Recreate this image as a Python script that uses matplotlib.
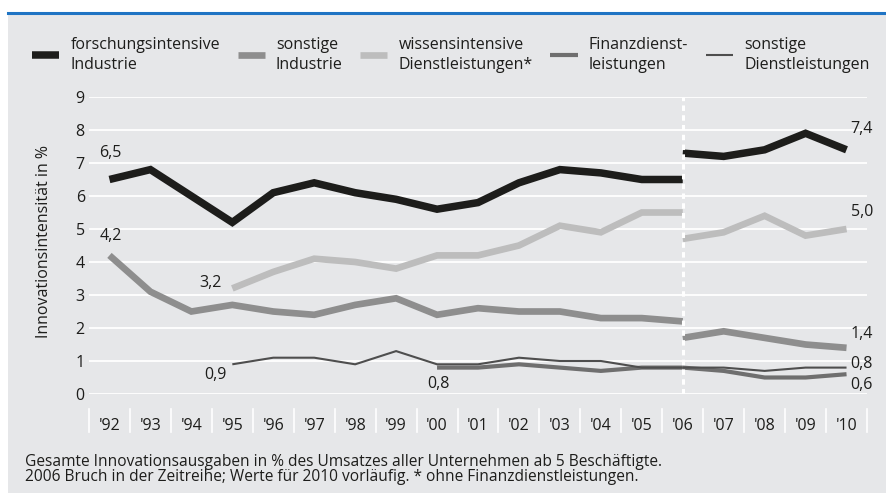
import matplotlib
matplotlib.use("Agg")
import matplotlib.pyplot as plt
import numpy as np

plt.rcParams['font.family'] = ['Open Sans', 'DejaVu Sans']

years = ["'92", "'93", "'94", "'95", "'96", "'97", "'98", "'99", "'00", "'01",
         "'02", "'03", "'04", "'05", "'06", "'07", "'08", "'09", "'10"]

# series: values 1992-2006 (old) and 2006-2010 (new), None = no data
forsch_old = [6.5, 6.8, 6.0, 5.2, 6.1, 6.4, 6.1, 5.9, 5.6, 5.8, 6.4, 6.8, 6.7, 6.5, 6.5]
forsch_new = [7.3, 7.2, 7.4, 7.9, 7.4]
sind_old = [4.2, 3.1, 2.5, 2.7, 2.5, 2.4, 2.7, 2.9, 2.4, 2.6, 2.5, 2.5, 2.3, 2.3, 2.2]
sind_new = [1.7, 1.9, 1.7, 1.5, 1.4]
wiss_old = [None, None, None, 3.2, 3.7, 4.1, 4.0, 3.8, 4.2, 4.2, 4.5, 5.1, 4.9, 5.5, 5.5]
wiss_new = [4.7, 4.9, 5.4, 4.8, 5.0]
fin_old = [None] * 8 + [0.8, 0.8, 0.9, 0.8, 0.7, 0.8, 0.8]
fin_new = [0.8, 0.7, 0.5, 0.5, 0.6]
sdl_old = [None, None, None, 0.9, 1.1, 1.1, 0.9, 1.3, 0.9, 0.9, 1.1, 1.0, 1.0, 0.8, 0.8]
sdl_new = [0.8, 0.8, 0.7, 0.8, 0.8]

labels = ["forschungsintensive\nIndustrie", "sonstige\nIndustrie",
          "wissensintensive\nDienstleistungen*", "Finanzdienst-\nleistungen",
          "sonstige\nDienstleistungen"]
colors = ["#1d1d1b", "#8e8e8e", "#bdbdbd", "#6f6f6f", "#4e4e4e"]
widths = [5.4, 4.8, 4.8, 3.0, 1.5]

FS = 11.5
TXT = "#1d1d1b"
BG = "#e6e7e9"
W, H = 886, 493
fig = plt.figure(figsize=(W / 100, H / 100), dpi=100)
fig.patch.set_facecolor("white")

# panel background and blue top rule
fig.add_artist(plt.Rectangle((8 / W, 0), 1, 1 - 13 / H, transform=fig.transFigure,
                             facecolor=BG, edgecolor="none", zorder=0))
fig.add_artist(plt.Line2D([8 / W, 1], [1 - 12.5 / H] * 2, transform=fig.transFigure,
                          color="#1f74c4", lw=2.2, zorder=1))

ax = fig.add_axes([89 / W, (H - 394) / H, (867 - 89) / W, (394 - 97) / H])
ax.set_facecolor("none")
for s in ax.spines.values():
    s.set_visible(False)

x_old = np.arange(15)
x_new = np.arange(14, 19)

def arr(v):
    return np.array([np.nan if a is None else a for a in v], dtype=float)

series = [(forsch_old, forsch_new), (sind_old, sind_new), (wiss_old, wiss_new),
          (fin_old, fin_new), (sdl_old, sdl_new)]
zorders = [5, 4.8, 4.6, 4.4, 4.5]
handles = []
for (o, n), c, w, lab, z in zip(series, colors, widths, labels, zorders):
    l, = ax.plot(x_old, arr(o), color=c, lw=w, solid_capstyle="butt",
                 solid_joinstyle="miter", zorder=z, label=lab)
    ax.plot(x_new, arr(n), color=c, lw=w, solid_capstyle="butt",
            solid_joinstyle="miter", zorder=z)
    handles.append(l)

# break line at 2006
ax.axvline(14, color="white", lw=2.2, ls=(0, (1.8, 1.4)), zorder=6)

ax.set_xlim(-0.5, 18.5)
ax.set_ylim(0, 9)
ax.set_yticks(range(0, 10))
ax.set_yticklabels([str(v) for v in range(0, 10)])
ax.grid(axis="y", color="white", lw=1.3, zorder=1)
ax.set_axisbelow(True)
ax.set_xticks(range(19))
ax.set_xticklabels(years)
ax.tick_params(axis="both", length=0, labelsize=FS, colors=TXT)
ax.tick_params(axis="x", pad=17)
ax.tick_params(axis="y", pad=3)

# separators between year labels
for xb in np.arange(-0.5, 19, 1.0):
    ax.plot([xb, xb], [-0.05, -0.128], transform=ax.get_xaxis_transform(),
            color="white", lw=1.2, clip_on=False)

ax.set_ylabel("Innovationsintensität in %", fontsize=FS, color=TXT)
ax.yaxis.set_label_coords(-(89 - 52) / 778, (394 - 241) / 297)

def ann(txt, x, y, dx, dy, ha="center", va="center"):
    ax.annotate(txt, (x, y), xytext=(dx * 0.72, dy * 0.72), textcoords="offset points",
                ha=ha, va=va, fontsize=FS, color=TXT, zorder=7)

ann("6,5", 0, forsch_old[0], 1, 27)
ann("4,2", 0, sind_old[0], 1, 19)
ann("3,2", 3, wiss_old[3], -11, 5, ha="right")
ann("0,9", 3, sdl_old[3], -6, -11, ha="right")
ann("0,8", 8, fin_old[8], 1, -16)
ann("7,4", 18, forsch_new[-1], 4, 21, ha="left")
ann("5,0", 18, wiss_new[-1], 4, 17, ha="left")
ann("1,4", 18, sind_new[-1], 4, 14, ha="left")
ann("0,8", 18, sdl_new[-1], 4, 4, ha="left")
ann("0,6", 18, fin_new[-1], 4, -11, ha="left")

leg = fig.legend(handles=handles, labels=labels, loc="upper left",
                 bbox_to_anchor=(32 / W, 1 - 37 / H), ncol=5, frameon=False,
                 fontsize=FS, handlelength=1.7, handletextpad=0.7,
                 columnspacing=1.1, borderpad=0, borderaxespad=0)
for t in leg.get_texts():
    t.set_color(TXT)
    t.set_linespacing(1.3)

fig.text(25 / W, 1 - 461.5 / H,
         "Gesamte Innovationsausgaben in % des Umsatzes aller Unternehmen ab 5 Beschäftigte.",
         fontsize=11.2, color=TXT, va="center", ha="left")
fig.text(25 / W, 1 - 477 / H,
         "2006 Bruch in der Zeitreihe; Werte für 2010 vorläufig. * ohne Finanzdienstleistungen.",
         fontsize=11.2, color=TXT, va="center", ha="left")

fig.savefig("out.png", dpi=100, facecolor=fig.get_facecolor())
